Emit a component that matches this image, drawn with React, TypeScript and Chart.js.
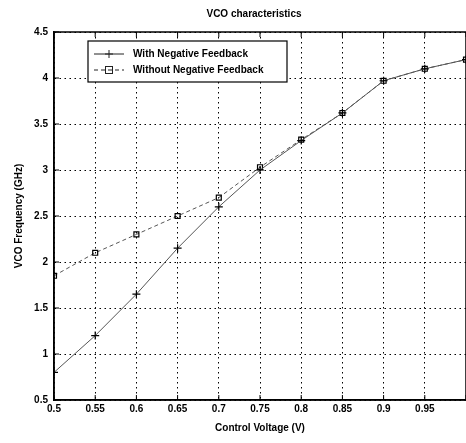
import React, { useEffect, useRef } from "react";
import { Chart, registerables } from "chart.js";

Chart.register(...registerables);

const titleText = "VCO characteristics";
const xTitle = "Control Voltage (V)";
const yTitle = "VCO Frequency (GHz)";
const seriesNames = ["With Negative Feedback", "Without Negative Feedback"];
const controlVoltage = [0.5, 0.55, 0.6, 0.65, 0.7, 0.75, 0.8, 0.85, 0.9, 0.95, 1.0];
const withFeedback = [0.8, 1.2, 1.65, 2.15, 2.6, 3.0, 3.32, 3.62, 3.97, 4.1, 4.2];
const withoutFeedback = [1.85, 2.1, 2.3, 2.5, 2.7, 3.03, 3.33, 3.62, 3.97, 4.1, 4.2];
const xTicks = [0.5, 0.55, 0.6, 0.65, 0.7, 0.75, 0.8, 0.85, 0.9, 0.95, 1.0];
const yTicks = [0.5, 1, 1.5, 2, 2.5, 3, 3.5, 4, 4.5];

const FONT = "'Liberation Sans', Arial, sans-serif";

const framePlugin = {
  id: "frameAndLegend",
  afterDraw(chart: any) {
    const { ctx, chartArea } = chart;
    ctx.save();
    ctx.strokeStyle = "#000";
    ctx.lineWidth = 1.5;
    ctx.setLineDash([]);
    ctx.strokeRect(chartArea.left, chartArea.top, chartArea.right - chartArea.left, chartArea.bottom - chartArea.top);
    const xs = chart.scales.x;
    const ys = chart.scales.y;
    ctx.lineWidth = 1;
    xTicks.forEach((v) => {
      const px = xs.getPixelForValue(v);
      ctx.beginPath();
      ctx.moveTo(px, chartArea.bottom);
      ctx.lineTo(px, chartArea.bottom - 5);
      ctx.moveTo(px, chartArea.top);
      ctx.lineTo(px, chartArea.top + 5);
      ctx.stroke();
    });
    yTicks.forEach((v) => {
      const py = ys.getPixelForValue(v);
      ctx.beginPath();
      ctx.moveTo(chartArea.left, py);
      ctx.lineTo(chartArea.left + 5, py);
      ctx.stroke();
    });
    ctx.fillStyle = "#000";
    ctx.font = `bold 10px ${FONT}`;
    ctx.textAlign = "center";
    ctx.textBaseline = "middle";
    ctx.fillText(titleText, (chartArea.left + chartArea.right) / 2 - 6, 14);
    const lx = 88, ly = 41, lw = 199, lh = 41;
    ctx.fillStyle = "#fff";
    ctx.fillRect(lx, ly, lw, lh);
    ctx.strokeStyle = "#000";
    ctx.lineWidth = 1.2;
    ctx.strokeRect(lx, ly, lw, lh);
    const rows = [ly + 13, ly + 29];
    rows.forEach((ry, i) => {
      ctx.strokeStyle = "#222";
      ctx.lineWidth = 1;
      ctx.setLineDash(i === 0 ? [] : [4, 3]);
      ctx.beginPath();
      ctx.moveTo(lx + 6, ry);
      ctx.lineTo(lx + 36, ry);
      ctx.stroke();
      ctx.setLineDash([]);
      const mx = lx + 21;
      ctx.beginPath();
      if (i === 0) {
        ctx.moveTo(mx - 4, ry);
        ctx.lineTo(mx + 4, ry);
        ctx.moveTo(mx, ry - 4);
        ctx.lineTo(mx, ry + 4);
        ctx.stroke();
      } else {
        ctx.strokeRect(mx - 3.5, ry - 3.5, 7, 7);
      }
      ctx.fillStyle = "#000";
      ctx.font = `bold 10px ${FONT}`;
      ctx.textAlign = "left";
      ctx.textBaseline = "middle";
      ctx.fillText(seriesNames[i], lx + 45, ry);
    });
    ctx.restore();
  },
};

export default function App() {
  const ref = useRef<HTMLCanvasElement>(null);
  useEffect(() => {
    if (!ref.current) return;
    const chart = new Chart(ref.current, {
      type: "line",
      data: {
        datasets: [
          {
            label: seriesNames[0],
            data: controlVoltage.map((x, i) => ({ x, y: withFeedback[i] })),
            borderColor: "#555",
            borderWidth: 1,
            pointStyle: "cross",
            pointRadius: 4,
            pointBorderColor: "#000",
            pointBorderWidth: 1.2,
            backgroundColor: "transparent",
            tension: 0,
          },
          {
            label: seriesNames[1],
            data: controlVoltage.map((x, i) => ({ x, y: withoutFeedback[i] })),
            borderColor: "#555",
            borderWidth: 1,
            borderDash: [4, 3],
            pointStyle: "rect",
            pointRadius: 3.5,
            pointBorderColor: "#000",
            pointBorderWidth: 1.2,
            pointBackgroundColor: "transparent",
            backgroundColor: "transparent",
            tension: 0,
          },
        ],
      },
      options: {
        animation: false,
        responsive: false,
        maintainAspectRatio: false,
        layout: { autoPadding: false, padding: { top: 32, right: 0, left: 0, bottom: 0 } },
        plugins: { legend: { display: false }, title: { display: false }, tooltip: { enabled: false } },
        scales: {
          x: {
            type: "linear",
            min: 0.5,
            max: 1.0,
            afterBuildTicks: (s: any) => {
              s.ticks = xTicks.map((v) => ({ value: v }));
            },
            afterFit: (s: any) => {
              s.height = 43;
              s.paddingRight = 0;
              s.paddingLeft = 0;
            },
            ticks: {
              color: "#000",
              font: { family: FONT, size: 10, weight: "bold" },
              padding: 3,
              maxRotation: 0,
              autoSkip: false,
              callback: (v: any) => (v >= 1 ? "" : String(Number(Number(v).toFixed(2)))),
            },
            grid: { color: "#000", lineWidth: 1, drawTicks: false },
            border: { display: true, color: "#000", width: 1.5, dash: [1.5, 3.5] },
            title: {
              display: true,
              text: xTitle,
              color: "#000",
              font: { family: FONT, size: 10, weight: "bold" },
              padding: { top: 0, bottom: 9 },
            },
          },
          y: {
            type: "linear",
            min: 0.5,
            max: 4.5,
            afterBuildTicks: (s: any) => {
              s.ticks = yTicks.map((v) => ({ value: v }));
            },
            afterFit: (s: any) => {
              s.width = 54;
            },
            ticks: {
              color: "#000",
              font: { family: FONT, size: 10, weight: "bold" },
              padding: 6,
              callback: (v: any) => String(v),
            },
            grid: { color: "#000", lineWidth: 1, drawTicks: false },
            border: { display: true, color: "#000", width: 1.5, dash: [1.5, 3.5] },
            title: {
              display: true,
              text: yTitle,
              color: "#000",
              font: { family: FONT, size: 10, weight: "bold" },
              padding: { top: 13, bottom: 0 },
            },
          },
        },
      },
      plugins: [framePlugin],
    } as any);
    return () => chart.destroy();
  }, []);
  return (
    <div style={{ position: "absolute", left: 0, top: 0, width: 466, height: 443, background: "#fff", overflow: "hidden" }}>
      <canvas ref={ref} width={466} height={443} style={{ display: "block" }} />
    </div>
  );
}
